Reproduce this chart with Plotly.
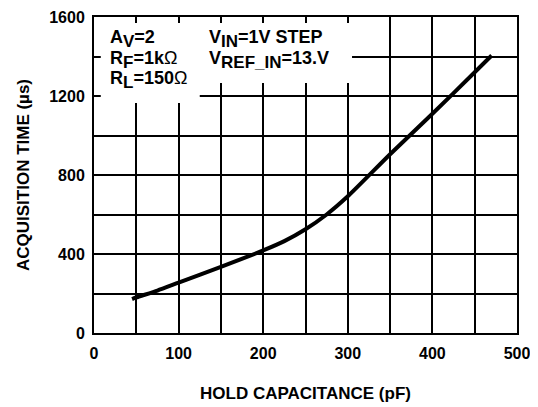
import plotly.graph_objects as go

# Data
hold_cap_pf = [45, 50, 75, 100, 150, 200, 225, 250, 275, 300, 350, 400, 450, 470]
acq_time_us = [172, 180, 215, 255, 335, 418, 465, 525, 600, 692, 905, 1110, 1320, 1405]

FONT = "Liberation Sans, Arial, sans-serif"

fig = go.Figure()
fig.add_trace(go.Scatter(
    x=hold_cap_pf, y=acq_time_us, mode="lines",
    line=dict(color="black", width=4, shape="spline", smoothing=0.6),
    showlegend=False, hoverinfo="skip"))

axis_common = dict(
    showline=True, linecolor="black", linewidth=2, mirror="allticks",
    ticks="inside", ticklen=5, tickwidth=2, tickcolor="black",
    showgrid=True, gridcolor="black", gridwidth=2, zeroline=False,
    automargin=False,
    tickfont=dict(family=FONT, size=16, color="black", weight="bold"),
)

fig.update_xaxes(range=[0, 500], dtick=100, tick0=0, ticklabelstandoff=5,
                 minor=dict(dtick=50, showgrid=True, gridcolor="black", gridwidth=2,
                            ticks="inside", ticklen=5, tickwidth=2, tickcolor="black"),
                 title=dict(text="<b>HOLD CAPACITANCE (pF)</b>", standoff=26,
                            font=dict(family=FONT, size=17, color="black")),
                 **axis_common)
fig.update_yaxes(range=[0, 1600], dtick=400, tick0=0, ticklabelstandoff=4,
                 minor=dict(dtick=200, showgrid=True, gridcolor="black", gridwidth=2,
                            ticks="inside", ticklen=5, tickwidth=2, tickcolor="black"),
                 title=dict(text="<b>ACQUISITION TIME (µs)</b>", standoff=15,
                            font=dict(family=FONT, size=17, color="black")),
                 **axis_common)

# white label box covering grid (L-shaped)
fig.add_shape(type="rect", x0=8, x1=305, y0=1266, y1=1570, xref="x", yref="y",
              fillcolor="white", line=dict(width=0), layer="above")
fig.add_shape(type="rect", x0=8, x1=125, y0=1165, y1=1268, xref="x", yref="y",
              fillcolor="white", line=dict(width=0), layer="above")

tfont = dict(family=FONT, size=18, color="black")


def sub(s):
    return "<sub><span style='font-size:17px'>" + s + "</span></sub>"


labels = [
    (16.0, 1487, "<b>A" + sub("<b>V</b>") + "=2</b>"),
    (16.0, 1384, "<b>R" + sub("<b>F</b>") + "=1k</b>Ω"),
    (16.0, 1282, "<b>R" + sub("<b>L</b>") + "=150</b>Ω"),
    (133.0, 1487, "<b>V" + sub("<b>IN</b>") + "=1V STEP</b>"),
    (133.0, 1384, "<b>V" + sub("<b>REF_IN</b>") + "=13.V</b>"),
]
for x, y, t in labels:
    fig.add_annotation(x=x, y=y, xref="x", yref="y", text=t, showarrow=False,
                       xanchor="left", yanchor="middle", font=tfont)

# page body has an 8px margin; compensate so the plot lands where the reference has it
fig.update_layout(
    width=530, height=399,
    margin=dict(l=86, r=21, t=9, b=74),
    plot_bgcolor="white", paper_bgcolor="white",
)

fig.write_html("out.html")
